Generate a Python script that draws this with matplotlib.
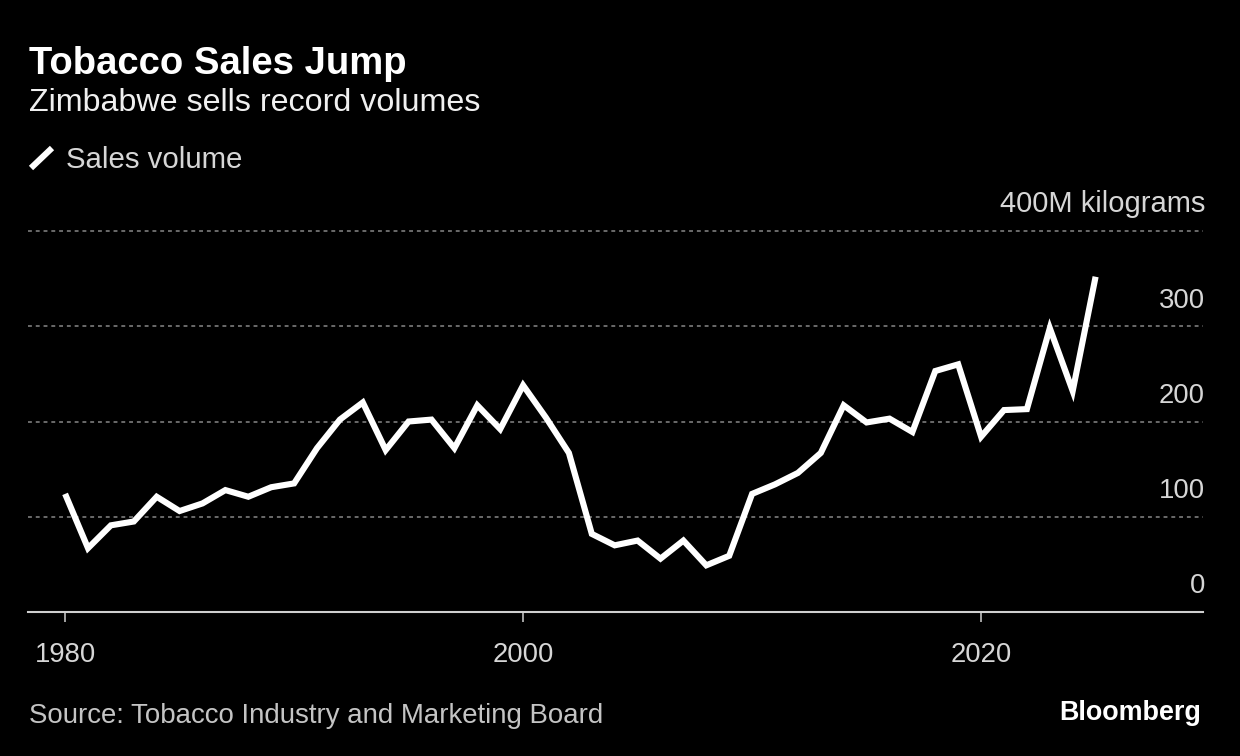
import matplotlib.pyplot as plt
import matplotlib.transforms as mtrans
from matplotlib.lines import Line2D

# data (million kg)
years = list(range(1980, 2026))
volumes = [124, 67, 91, 95, 121, 106, 114, 128, 121, 131,
           135, 172, 202, 220, 170, 200, 202, 172, 217, 192,
           238, 204, 167, 82, 70, 75, 56, 75, 49, 59,
           124, 134, 146, 167, 217, 199, 203, 189, 253, 260,
           184, 212, 213, 298, 232, 352]
yticks = [0, 100, 200, 300]
ytick_labels = ['0', '100', '200', '300']
xticks = [1980, 2000, 2020]

W, H = 1240, 756
plt.rcParams['font.family'] = ['Liberation Sans', 'DejaVu Sans']

fig = plt.figure(figsize=(W / 100, H / 100), dpi=100, facecolor='black')
ax = fig.add_axes([28 / W, 1 - 612 / H, (1203 - 28) / W, (612 - 231) / H])
ax.set_facecolor('black')

ax.set_xlim(1978.38, 2029.69)
ax.set_ylim(0, 400)

# dotted gridlines
for v in [100, 200, 300, 400]:
    ax.axhline(v, color='#6a6a6a', lw=1.4, linestyle=(0, (2, 2)), zorder=1, clip_on=False)

ax.plot(years, volumes, color='white', lw=4.4, solid_joinstyle='miter',
        solid_capstyle='butt', zorder=3)

for s in ['top', 'left', 'right']:
    ax.spines[s].set_visible(False)
ax.spines['bottom'].set_color('#cfcfcf')
ax.spines['bottom'].set_linewidth(1.5)

ax.set_yticks([])
ax.set_xticks(xticks)
ax.set_xticklabels([str(x) for x in xticks])
ax.tick_params(axis='x', direction='out', length=7.5, width=1.1, color='#cfcfcf',
               labelcolor='#d6d6d6', labelsize=19.8, pad=14)

# y labels sit above their gridlines at the right edge
lab_tr = mtrans.offset_copy(ax.get_yaxis_transform(), fig=fig, x=0, y=13.5, units='points')
for v, t in zip(yticks, ytick_labels):
    ax.text(1.0015, v, t, transform=lab_tr, ha='right', va='baseline',
            color='#d6d6d6', fontsize=19.8)
fig.text(1205 / W, 1 - 212 / H, '400M kilograms', ha='right', va='baseline',
         color='#d6d6d6', fontsize=21)

# header
fig.text(29 / W, 1 - 74 / H, 'Tobacco Sales Jump', ha='left', va='baseline',
         color='white', fontsize=27.5, fontweight='bold')
fig.text(29 / W, 1 - 111 / H, 'Zimbabwe sells record volumes', ha='left', va='baseline',
         color='#f0f0f0', fontsize=23.2)

# legend
fig.add_artist(Line2D([31 / W, 52 / W], [1 - 168 / H, 1 - 148 / H], color='white',
                      lw=4.4, solid_capstyle='butt', transform=fig.transFigure))
fig.text(66 / W, 1 - 168 / H, 'Sales volume', ha='left', va='baseline',
         color='#d6d6d6', fontsize=21.2)

# footer
fig.text(29 / W, 1 - 723 / H, 'Source: Tobacco Industry and Marketing Board', ha='left',
         va='baseline', color='#c4c4c4', fontsize=19.9)
fig.text(1201 / W, 1 - 720 / H, 'Bloomberg', ha='right', va='baseline',
         color='white', fontsize=19.4, fontweight='bold')

fig.savefig('out.png', dpi=100, facecolor='black')
